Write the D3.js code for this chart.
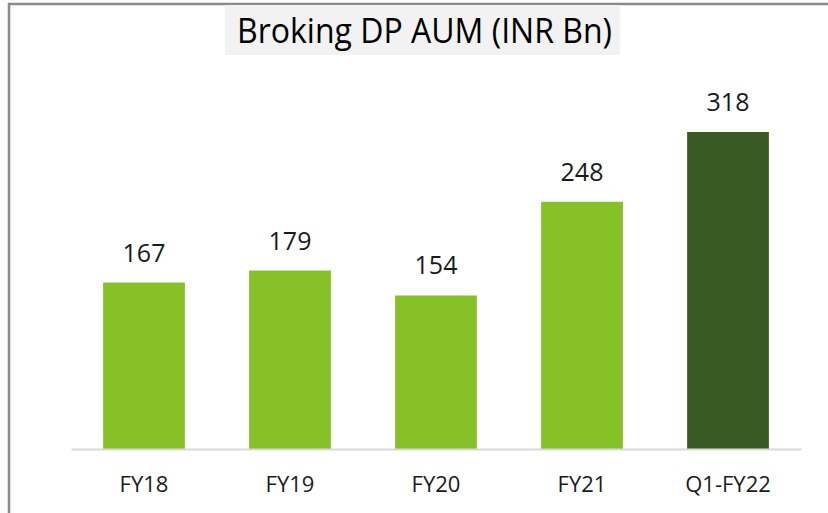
<!DOCTYPE html>
<html>
<head>
<meta charset="utf-8">
<script src="https://cdn.jsdelivr.net/npm/d3@7"></script>
<style>
  body { margin: 0; background: #fafbfc; }
  svg { display: block; }
  text { font-family: "Open Sans", "Noto Sans", sans-serif; fill: #1a1a1a; }
</style>
</head>
<body>
<script>
(function () {

  let categories = ['FY18', 'FY19', 'FY20', 'FY21', 'Q1-FY22'];
  let values     = [167, 179, 154, 248, 318];
  let barColors  = ['#86c128', '#86c128', '#86c128', '#86c128', '#3a5a24'];
  let title      = 'Broking DP AUM (INR Bn)';

  function go() {

    let width  = 828;
    let height = 513;

    let svg = d3.select('body').append('svg')
        .attr('width', width)
        .attr('height', height);

    // frame: white panel with grey left / top edges
    svg.append('rect')
      .attr('x', 9).attr('y', 4)
      .attr('width', width - 9).attr('height', height - 4)
      .attr('fill', '#ffffff');
    svg.append('line')
      .attr('x1', 9).attr('x2', 9).attr('y1', 3).attr('y2', height)
      .attr('stroke', '#8a8a8a').attr('stroke-width', 2.5);
    svg.append('line')
      .attr('x1', 8).attr('x2', width).attr('y1', 4).attr('y2', 4)
      .attr('stroke', '#8a8a8a').attr('stroke-width', 2.5);

    // title box (narrow font in the original, so squeeze it to fit)
    svg.append('rect')
      .attr('x', 225).attr('y', 5)
      .attr('width', 395).attr('height', 50)
      .attr('fill', '#f2f2f2');
    svg.append('text')
      .attr('x', 237).attr('y', 43)
      .attr('textLength', 375)
      .attr('lengthAdjust', 'spacingAndGlyphs')
      .style('font-size', '34px')
      .style('fill', '#000')
      .text(title);

    let x = d3.scaleBand()
        .domain(categories)
        .range([71, 801])
        .paddingInner(0.44)
        .paddingOuter(0.22);

    let y = d3.scaleLinear()
        .domain([0, 318])
        .range([449, 132]);

    let bars = svg.append('g').selectAll('g.bar')
        .data(categories)
        .enter().append('g')
        .attr('class', 'bar');

    bars.append('rect')
      .attr('x', d => x(d))
      .attr('y', (d, i) => y(values[i]))
      .attr('width', x.bandwidth())
      .attr('height', (d, i) => y(0) - y(values[i]))
      .attr('fill', (d, i) => barColors[i]);

    bars.append('text')
      .attr('x', d => x(d) + x.bandwidth() / 2)
      .attr('y', (d, i) => y(values[i]) - 21)
      .attr('text-anchor', 'middle')
      .style('font-size', '25px')
      .text((d, i) => values[i]);

    // baseline + category labels
    let axis = d3.axisBottom(x).tickSize(0).tickPadding(0);
    let g = svg.append('g')
      .attr('transform', 'translate(0,' + y(0) + ')')
      .call(axis);
    g.select('.domain').attr('stroke', '#d9d9d9').attr('stroke-width', 2);
    g.selectAll('text')
      .attr('y', 43)
      .attr('dy', 0)
      .style('font-size', '22px')
      .style('font-family', '"Open Sans", sans-serif')
      .attr('fill', '#1a1a1a');
  }

  document.addEventListener('DOMContentLoaded', go);

})();
</script>
</body>
</html>
